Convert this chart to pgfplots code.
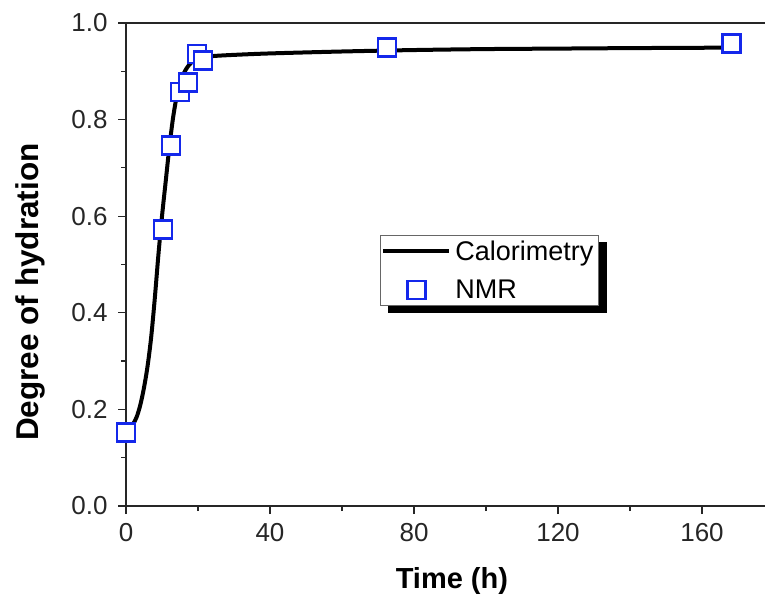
\documentclass[border=0pt]{standalone}
\usepackage{pgfplots}
\pgfplotsset{compat=1.18}
\usepackage{fontspec}
\setmainfont{Liberation Sans}
\usetikzlibrary{backgrounds}
\definecolor{nmrblue}{RGB}{20,40,235}
\pgfplotsset{
  callegend/.style={legend image code/.code={\draw[##1] (0pt,0pt) -- (66pt,0pt);}},
  nmrlegend/.style={legend image code/.code={\draw[##1] plot coordinates {(33pt,0pt)};}},
}
\begin{document}
\begin{tikzpicture}
\path[use as bounding box] (0pt,0pt) rectangle (765pt,597pt);
\begin{axis}[
  at={(126pt,91pt)}, anchor=south west,
  scale only axis, width=639pt, height=483pt,
  xmin=0, xmax=177.5, ymin=0, ymax=1,
  axis x line*=box, axis y line*=left,
  axis line style={line width=1.2pt, black!85},
  xtick={0,40,80,120,160}, ytick={0,0.2,0.4,0.6,0.8,1.0},
  minor xtick={20,60,100,140}, minor ytick={0.1,0.3,0.5,0.7,0.9},
  xtick pos=bottom, ytick pos=left,
  tick align=outside,
  major tick length=8pt, minor tick length=5pt,
  every tick/.style={line width=1.2pt, black!85},
  yticklabel style={xshift=-7pt, /pgf/number format/fixed, /pgf/number format/fixed zerofill, /pgf/number format/precision=1},
  /pgf/number format/assume math mode=true,
  tick label style={font=\fontsize{26}{30}\selectfont, black!85},
  xticklabel style={yshift=-6pt},
  xlabel={Time (h)}, ylabel={Degree of hydration},
  label style={font=\fontsize{29}{34}\selectfont\bfseries},
  xlabel style={at={(axis description cs:0.510,-0.155)}, anchor=center},
  ylabel style={at={(axis description cs:-0.149,0.443)}, anchor=center, font=\fontsize{31.5}{36}\selectfont\bfseries},
  legend style={name=leg, at={(axis description cs:0.3975,0.561)}, anchor=north west,
    draw=black!60, line width=0.8pt, fill=white,
    font=\fontsize{27}{31}\selectfont,
    inner xsep=1pt, inner ysep=3.5pt, row sep=14pt,
    nodes={inner xsep=4pt}},
  legend cell align=left,
]
\addplot[black, line width=4pt, smooth, tension=0.5, callegend]
coordinates {
(1,0.160) (2,0.170) (3,0.185) (4,0.210) (5,0.245) (6,0.290) (7,0.350)
(8,0.430) (9,0.520) (10,0.600) (11,0.670) (12,0.740) (13,0.800)
(14,0.845) (15,0.875) (16,0.895) (17,0.908) (18,0.917) (19,0.922)
(20,0.926) (22,0.930) (25,0.932) (30,0.934) (40,0.937) (60,0.941)
(80,0.944) (100,0.946) (120,0.947) (140,0.948) (168,0.949)
};
\addlegendentry{Calorimetry}
\addplot[only marks, mark=square*, mark size=9pt,
  mark options={draw=nmrblue, fill=white, line width=2.8pt}, nmrlegend]
coordinates {
(0,0.153) (10.3,0.573) (12.5,0.747) (15,0.857) (17.2,0.876)
(19.7,0.936) (21.4,0.923) (72.5,0.950) (168.3,0.957)
};
\addlegendentry{NMR}
\end{axis}
\begin{pgfonlayer}{background}
\fill[black] ([xshift=8pt,yshift=-7pt]leg.south west) rectangle ([xshift=8pt,yshift=-7pt]leg.north east);
\end{pgfonlayer}
\end{tikzpicture}
\end{document}
